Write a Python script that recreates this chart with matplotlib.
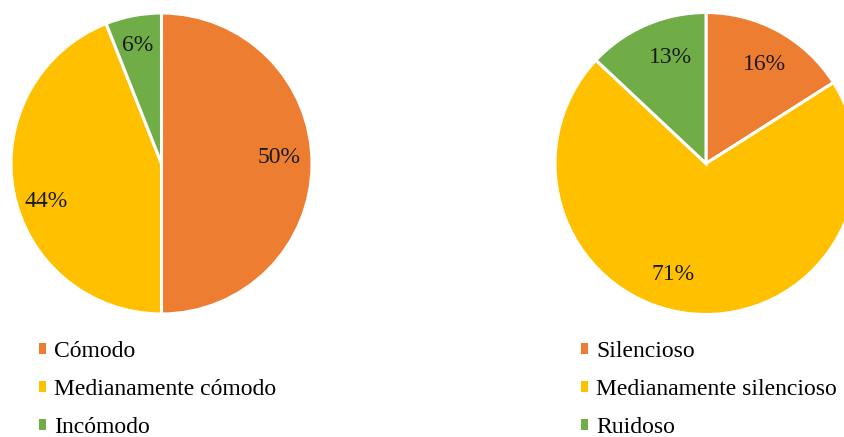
import matplotlib.pyplot as plt
from matplotlib.patches import Patch

# datos
etiquetas_comodidad = ["Cómodo", "Medianamente cómodo", "Incómodo"]
valores_comodidad = [50, 44, 6]

etiquetas_ruido = ["Silencioso", "Medianamente silencioso", "Ruidoso"]
valores_ruido = [16, 71, 13]

colores = ["#ED7D31", "#FFC000", "#70AD47"]

plt.rcParams["font.family"] = ["Liberation Serif", "DejaVu Serif"]

W, H = 845, 437
fig = plt.figure(figsize=(W / 100, H / 100), dpi=100)


def pastel(cx, cy, r, valores, etiquetas, leg_x, ajustes):
    ax = fig.add_axes([(cx - r) / W, (H - cy - r) / H, 2 * r / W, 2 * r / H])
    wedges, _, autotexts = ax.pie(
        valores, colors=colores, startangle=90, counterclock=False,
        autopct="%1.0f%%", pctdistance=0.78,
        wedgeprops=dict(edgecolor="white", linewidth=2.2),
        textprops=dict(fontsize=17, color="#1a1a1a"))
    # desplazamiento tipo "mejor ajuste" (en pixeles)
    for t, (dx, dy) in zip(autotexts, ajustes):
        x, y = t.get_position()
        t.set_position((x + dx / r, y - dy / r))
    ax.set_xlim(-1, 1)
    ax.set_ylim(-1, 1)
    ax.set_aspect("auto")
    ax.axis("off")
    handles = [Patch(facecolor=c, edgecolor="none") for c in colores]
    fig.legend(handles, etiquetas, loc="upper left",
               bbox_to_anchor=(leg_x / W, (H - 341) / H),
               frameon=False, fontsize=17, handlelength=0.3, handleheight=0.3,
               handletextpad=0.35, labelspacing=0.72, borderpad=0, borderaxespad=0)
    return ax


pastel(161.5, 163.5, 150.5, valores_comodidad, etiquetas_comodidad, 39,
       [(0, -6), (0, 16), (-2, -3)])
pastel(706, 163.5, 151, valores_ruido, etiquetas_ruido, 581,
       [(2, 4), (-22, -6), (11, 2)])

plt.savefig("out.png", dpi=100)
